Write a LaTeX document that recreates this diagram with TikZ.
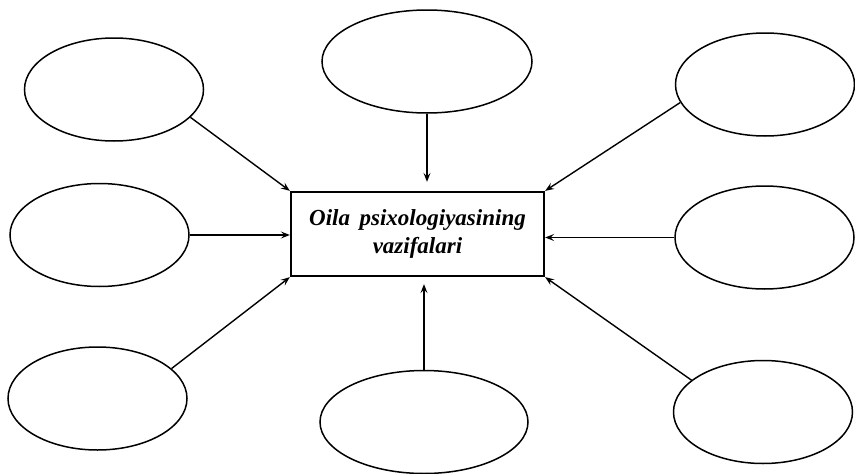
\documentclass[tikz,border=0pt]{standalone}
\usepackage{fontspec}
\setmainfont{Liberation Serif}
\usetikzlibrary{shapes.geometric,arrows.meta}

\begin{document}
\begin{tikzpicture}[x=1pt,y=-1pt,
  oval/.style={draw,ellipse,line width=1.5pt,minimum width=#1,minimum height=103pt,inner sep=0pt},
  oval/.default=179pt,
  mainbox/.style={draw,line width=2.3pt,minimum width=253pt,minimum height=84pt,align=center,
    font=\fontsize{23}{28.5}\selectfont\bfseries\itshape},
  arr/.style={-{Stealth[length=9pt,width=7pt,inset=3.5pt]},line width=1.4pt}]
\useasboundingbox (0,0) rectangle (855,474);
\node[mainbox] (box) at (417.5,234) {Oila\, psixologiyasining\\vazifalari};
\node[oval] (tl) at (114,89.5) {};
\node[oval] (ml) at (99.5,235) {};
\node[oval] (bl) at (97.5,398.5) {};
\node[oval=210pt] (tm) at (427,61.5) {};
\node[oval=208pt] (bm) at (424,422) {};
\node[oval] (tr) at (765,84.5) {};
\node[oval] (mr) at (764.5,237.5) {};
\node[oval] (br) at (763,412) {};
\draw[arr] (tl.-20) -- (box.north west);
\draw[arr] (ml.east) -- (ml.east -| box.west);
\draw[arr] (bl.22) -- (box.south west);
\draw[arr,shorten >=9pt] (tm.south) -- (tm.south |- box.north);
\draw[arr,shorten >=7pt] (bm.north) -- (bm.north |- box.south);
\draw[arr] (tr.192) -- (box.north east);
\draw[arr] (mr.west) -- (mr.west -| box.east);
\draw[arr] (br.156) -- (box.south east);
\end{tikzpicture}
\end{document}
